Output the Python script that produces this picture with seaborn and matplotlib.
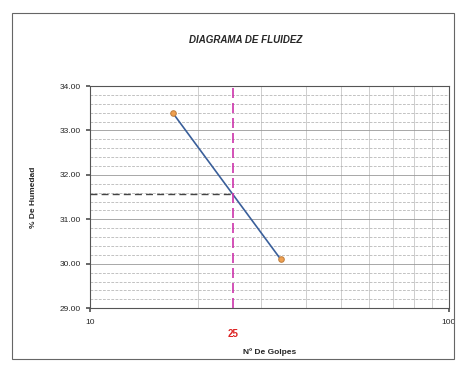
import matplotlib
matplotlib.use("Agg")
import matplotlib.pyplot as plt
import seaborn as sns
import pandas as pd
import numpy as np
from matplotlib.patches import Rectangle
from matplotlib.ticker import FixedLocator, FixedFormatter, MultipleLocator, LogLocator, NullFormatter

golpes = [17, 34]
humedad = [33.40, 30.10]
n_ref = 25
humedad_ref = 31.56
yticks = [29.00, 30.00, 31.00, 32.00, 33.00, 34.00]
xticks = [10, 100]

sns.set_theme(style="white")
plt.rcParams['font.family'] = ['Liberation Sans', 'DejaVu Sans']

fig = plt.figure(figsize=(4.73, 3.66), dpi=100)
ax = fig.add_axes([0.19, 0.158, 0.759, 0.607])

df = pd.DataFrame({"golpes": golpes, "humedad": humedad})
sns.lineplot(data=df, x="golpes", y="humedad", ax=ax, color="#3a5f9a", linewidth=1.2,
             marker="o", markersize=4, markerfacecolor="#f0a050", markeredgecolor="#c08040")

ax.set_xscale("log")
ax.set_xlim(10, 100)
ax.set_ylim(29, 34)
ax.xaxis.set_major_locator(FixedLocator(xticks))
ax.xaxis.set_major_formatter(FixedFormatter([str(v) for v in xticks]))
ax.xaxis.set_minor_locator(LogLocator(base=10, subs=np.arange(2, 10)))
ax.xaxis.set_minor_formatter(NullFormatter())
ax.yaxis.set_major_locator(FixedLocator(yticks))
ax.set_yticklabels([f"{v:.2f}" for v in yticks])
ax.yaxis.set_minor_locator(MultipleLocator(0.2))

ax.grid(which="major", axis="both", color="#999999", linewidth=0.6)
ax.grid(which="minor", axis="y", color="#aaaaaa", linewidth=0.5, linestyle=(0, (4, 2)))
ax.grid(which="minor", axis="x", color="#bbbbbb", linewidth=0.5)

ax.axvline(n_ref, color="#cc33aa", linewidth=1.2, linestyle=(0, (6, 3)), zorder=3)
ax.plot([10, n_ref], [humedad_ref, humedad_ref], color="#444444", linewidth=1.0,
        linestyle=(0, (5, 3)), zorder=3)

for s in ax.spines.values():
    s.set_color("#555555")
    s.set_linewidth(0.8)
ax.tick_params(axis="both", which="major", labelsize=6, length=3, color="#555555", direction="out",
               bottom=True, left=True)
ax.tick_params(axis="x", which="major", pad=5)
ax.tick_params(axis="y", which="minor", length=0)
ax.tick_params(axis="x", which="minor", length=0)

ax.set_xlabel("Nº De Golpes", fontsize=6, fontweight="bold", labelpad=16)
ax.set_ylabel("% De Humedad", fontsize=6, fontweight="bold", labelpad=16)
ax.text(n_ref, -0.115, str(n_ref), transform=ax.get_xaxis_transform(), color="#dd2222",
        fontsize=7, fontweight="bold", ha="center", va="center")

fig.text(0.52, 0.89, "DIAGRAMA DE FLUIDEZ", fontsize=7, fontweight="bold", fontstyle="italic",
         ha="center", va="center")

fig.patches.append(Rectangle((0.025, 0.02), 0.935, 0.945, transform=fig.transFigure,
                             fill=False, edgecolor="#666666", linewidth=0.8))

fig.savefig("out.png", dpi=100)
